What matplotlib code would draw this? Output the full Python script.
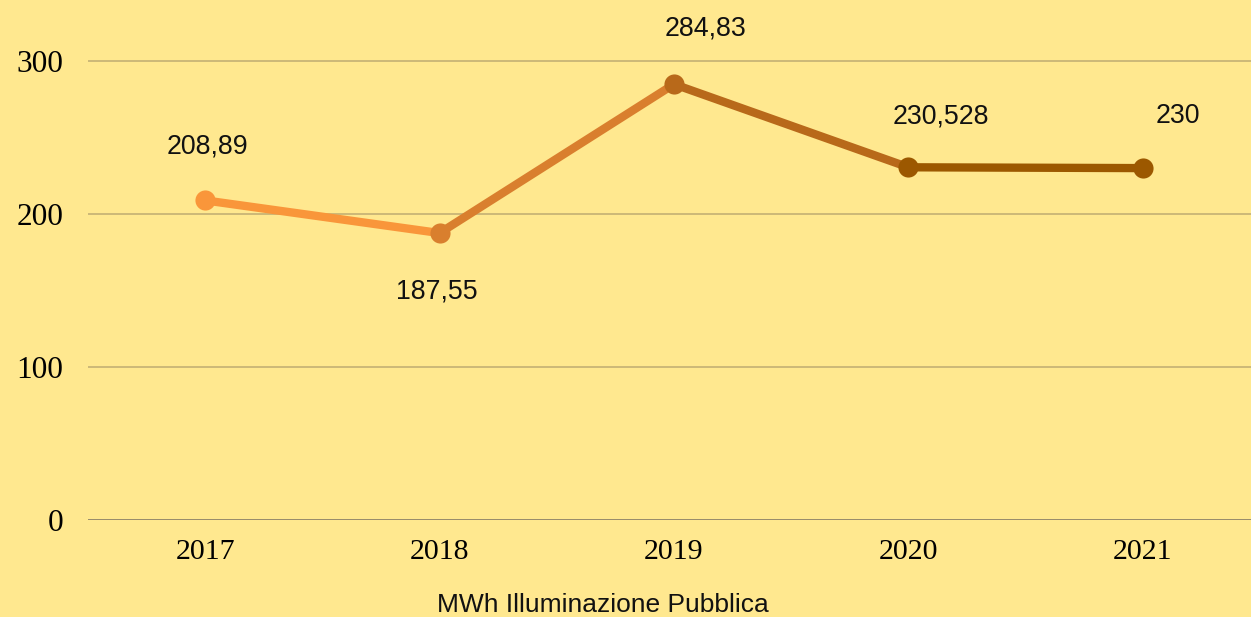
import matplotlib
matplotlib.use("Agg")
import matplotlib.pyplot as plt

years = ["2017", "2018", "2019", "2020", "2021"]
values = [208.89, 187.55, 284.83, 230.528, 230]
labels = ["208,89", "187,55", "284,83", "230,528", "230"]
point_colors = ["#F9963A", "#D97F2E", "#B8691A", "#9C5800", "#9C5800"]
segment_colors = ["#F9963A", "#D97F2E", "#B8691A", "#9C5800"]
# label offsets in pixels (dx, dy)
label_offsets = [(2, 54), (-3, -58), (32, 56), (32, 51), (35, 52)]
yticks = [0, 100, 200, 300]
title = "MWh Illuminazione Pubblica"

W, H = 1251, 617
bg = "#FFE88F"
fig = plt.figure(figsize=(W / 100, H / 100), dpi=100, facecolor=bg)
left, right, bottom, top = 88, 1260, 520, 0
ax = fig.add_axes([left / W, (H - bottom) / H, (right - left) / W, (bottom - top) / H])
ax.set_facecolor(bg)
ax.set_xlim(-0.5, 4.5)
ax.set_ylim(0, 520 / 1.53)

for s in ax.spines.values():
    s.set_visible(False)
for t in yticks[1:]:
    ax.axhline(t, color="#C8B476", lw=1.3, zorder=1)
ax.axhline(0, color="#787060", lw=1.8, zorder=1)

x = list(range(len(years)))
for i in range(len(values) - 1):
    ax.plot(x[i:i + 2], values[i:i + 2], color=segment_colors[i], lw=6, solid_capstyle="butt", zorder=2)
for i in range(len(values)):
    ax.plot(x[i], values[i], "o", color=point_colors[i], ms=14.5, mec="none", zorder=3)
    dx, dy = label_offsets[i]
    ax.annotate(labels[i], (x[i], values[i]), xytext=(dx * 0.72, dy * 0.72), textcoords="offset points",
                ha="center", va="center", fontsize=19.3, family="Liberation Sans", color="#111111")

ax.set_xticks(x)
ax.set_xticklabels(years, family="Liberation Serif", fontsize=21.5)
ax.set_yticks(yticks)
ax.set_yticklabels([str(t) for t in yticks], family="Liberation Serif", fontsize=22.5)
ax.tick_params(length=0)
ax.tick_params(axis="x", pad=14)
ax.tick_params(axis="y", pad=18)

fig.text(603 / W, 1 - 605 / H, title, ha="center", va="center", fontsize=19,
         family="Liberation Sans", color="#111111")

fig.savefig("out.png", dpi=100, facecolor=bg)
